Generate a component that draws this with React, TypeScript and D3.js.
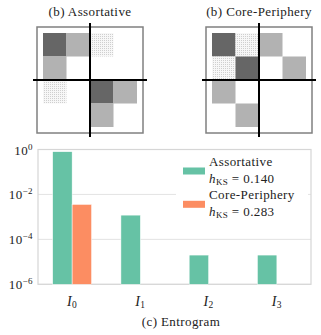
import React from 'react';
import * as d3 from 'd3';

const categories = ['0', '1', '2', '3'];
const seriesNames = ['Assortative', 'Core-Periphery'];
const hKS = ['0.140', '0.283'];
const assortativeValues = [0.8, 1.2e-3, 2e-5, 2e-5];
const corePeripheryValues = [3.6e-3, 0, 0, 0];
const yTicks = [0, -2, -4, -6];
const colors = ['#66c2a5', '#fc8d62'];

// 0 empty, 1 light, 2 dark, 3 dotted
const assortativeBlocks = [
  [2, 1, 3, 0],
  [1, 0, 0, 0],
  [3, 0, 2, 1],
  [0, 0, 1, 0],
];
const corePeripheryBlocks = [
  [2, 3, 1, 0],
  [3, 2, 0, 1],
  [1, 0, 0, 0],
  [0, 1, 0, 0],
];

const textStyle = { fontFamily: 'Liberation Serif', letterSpacing: '0.4px' };
const fill = (v: number) => v === 1 ? '#b2b2b2' : v === 2 ? '#666666' : v === 3 ? 'url(#dots)' : 'none';

function Matrix({ blocks, cx, cy, title }: { blocks: number[][]; cx: number; cy: number; title: string }) {
  const idx = d3.range(4);
  const s = d3.scaleBand<number>().domain(idx).range([-47, 47]);
  return (
    <g transform={`translate(${cx},${cy})`}>
      <text x={0} y={16 - cy} textAnchor="middle" fontSize={13} style={textStyle} fill="#222">{title}</text>
      <rect x={-53} y={-53} width={106} height={106} fill="white" stroke="#808080" strokeWidth={1.5} />
      {blocks.map((row, i) => row.map((v, j) => v ? (
        <rect key={`${i}-${j}`} x={s(j)!} y={s(i)!} width={s.bandwidth()} height={s.bandwidth()} fill={fill(v)} />
      ) : null))}
      <line x1={0} x2={0} y1={-57} y2={57} stroke="black" strokeWidth={2} />
      <line x1={-57} x2={57} y1={0} y2={0} stroke="black" strokeWidth={2} />
    </g>
  );
}

export default function App() {
  const left = 38, right = 311, top = 149.5, bottom = 284.3;
  const x = d3.scaleBand().domain(categories).range([left, right]).paddingInner(0.43).paddingOuter(0.215);
  const xs = d3.scaleBand().domain(seriesNames).range([0, x.bandwidth()]);
  const y = d3.scaleLog().domain([1e-6, 1]).range([bottom, top]);
  const values = [assortativeValues, corePeripheryValues];

  return (
    <svg width={321} height={335} style={{ position: 'absolute', left: 0, top: 0 }}>
      <defs>
        <pattern id="dots" width={2} height={2} patternUnits="userSpaceOnUse">
          <rect width={2} height={2} fill="#f7f7f7" />
          <rect width={1} height={1} fill="#cfcfcf" />
        </pattern>
      </defs>
      <Matrix blocks={assortativeBlocks} cx={90} cy={80} title="(b) Assortative" />
      <Matrix blocks={corePeripheryBlocks} cx={259} cy={80} title="(b) Core-Periphery" />

      {yTicks.map(t => (
        <line key={t} x1={left} x2={right} y1={y(10 ** t)} y2={y(10 ** t)} stroke="#e3e3e3" strokeWidth={1} />
      ))}
      <rect x={left} y={top} width={right - left} height={bottom - top} fill="none" stroke="#d6d6d6" strokeWidth={1.2} />

      {values.map((vals, si) => vals.map((v, i) => v > 0 ? (
        <rect key={`${si}-${i}`} x={x(categories[i])! + xs(seriesNames[si])!} y={y(v)}
          width={xs.bandwidth()} height={bottom - y(v)} fill={colors[si]} stroke="white" strokeWidth={0.5} />
      ) : null))}

      <rect x={176} y={152} width={132} height={74} fill="white" />
      {seriesNames.map((name, si) => (
        <g key={name} transform={`translate(183,${166 + si * 33.3})`}>
          <rect x={0} y={1.5} width={22} height={7} fill={colors[si]} />
          <text x={26} y={0} fontSize={13} style={textStyle} fill="#222">{name}</text>
          <text x={26} y={16.5} fontSize={13} style={textStyle} fill="#222">
            <tspan fontStyle="italic">h</tspan>
            <tspan fontSize={9} dy={2}>KS</tspan>
            <tspan dy={-2}>{` = ${hKS[si]}`}</tspan>
          </text>
        </g>
      ))}

      {yTicks.map(t => (
        <text key={t} x={33} y={y(10 ** t) + 5} textAnchor="end" fontSize={13} style={textStyle} fill="#222">
          10<tspan fontSize={9} dy={-5}>{t === 0 ? '0' : `−${-t}`}</tspan>
        </text>
      ))}
      {categories.map(c => (
        <text key={c} x={x(c)! + x.bandwidth() / 2} y={306} textAnchor="middle" fontSize={14} style={textStyle} fill="#222">
          <tspan fontStyle="italic">I</tspan><tspan fontSize={9.5} dy={2}>{c}</tspan>
        </text>
      ))}
      <text x={181} y={326} textAnchor="middle" fontSize={13} style={textStyle} fill="#222">(c) Entrogram</text>
    </svg>
  );
}
